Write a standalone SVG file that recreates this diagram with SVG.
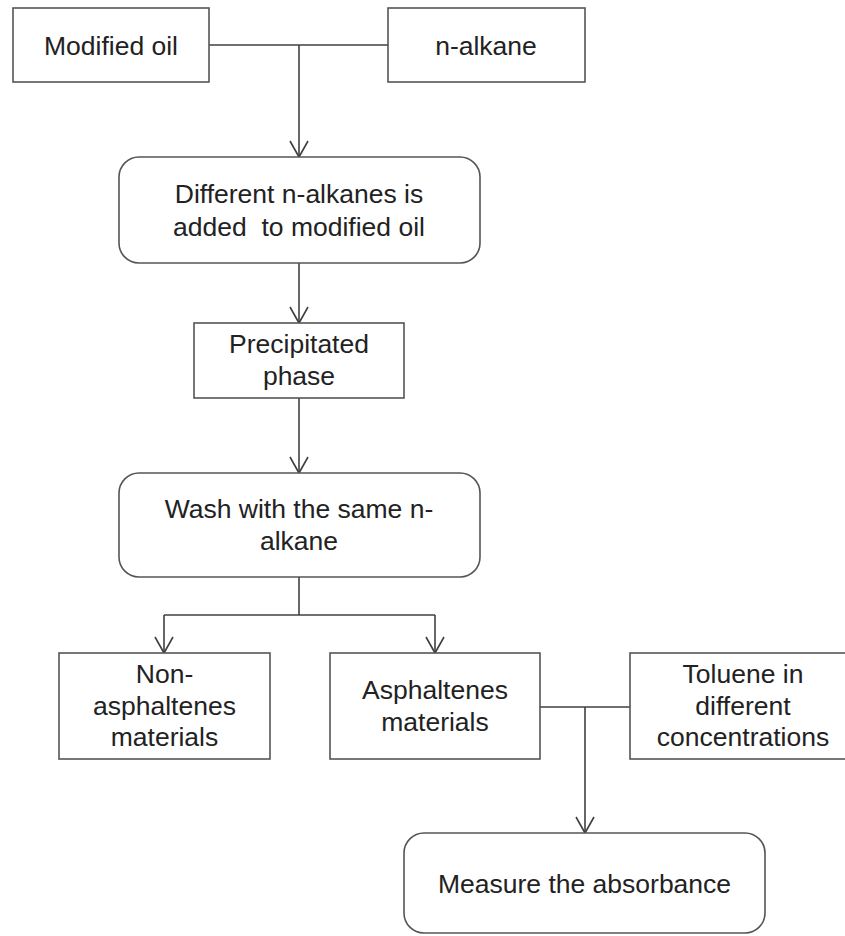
<svg xmlns="http://www.w3.org/2000/svg" width="845" height="936" viewBox="0 0 845 936">
  <style>
    .box { fill: #ffffff; stroke: #555555; stroke-width: 1.6; }
    .wire { fill: none; stroke: #404040; stroke-width: 1.6; }
    .lbl { font-family: "Liberation Sans", Arial, sans-serif; font-size: 26.5px; fill: #222222; text-anchor: middle; white-space: pre; }
  </style>
  <defs>
    <marker id="vhead" markerUnits="userSpaceOnUse" viewBox="-20 -20 40 40" markerWidth="40" markerHeight="40" refX="0" refY="0" orient="auto" overflow="visible">
      <path d="M-16,-9 L0,0 L-16,9" fill="none" stroke="#404040" stroke-width="1.6"/>
    </marker>
  </defs>
  <rect width="845" height="936" fill="#ffffff"/>

  <!-- connectors -->
  <g id="connectors">
    <line class="wire" x1="209" y1="45" x2="388" y2="45"/>
    <line class="wire" x1="299" y1="45" x2="299" y2="157" marker-end="url(#vhead)"/>
    <line class="wire" x1="299" y1="263" x2="299" y2="323" marker-end="url(#vhead)"/>
    <line class="wire" x1="299" y1="398" x2="299" y2="473" marker-end="url(#vhead)"/>
    <line class="wire" x1="299" y1="577" x2="299" y2="615"/>
    <line class="wire" x1="164" y1="615" x2="435" y2="615"/>
    <line class="wire" x1="164" y1="615" x2="164" y2="653" marker-end="url(#vhead)"/>
    <line class="wire" x1="435" y1="615" x2="435" y2="653" marker-end="url(#vhead)"/>
    <line class="wire" x1="540" y1="707" x2="630" y2="707"/>
    <line class="wire" x1="585" y1="707" x2="585" y2="833" marker-end="url(#vhead)"/>
  </g>

  <g id="modified-oil">
    <rect class="box" x="13" y="8" width="196" height="74"/>
    <text class="lbl" x="111" y="54.5">Modified oil</text>
  </g>

  <g id="n-alkane">
    <rect class="box" x="388" y="8" width="197" height="74"/>
    <text class="lbl" x="486" y="54.5">n-alkane</text>
  </g>

  <g id="mixing">
    <rect class="box" x="119" y="157" width="361" height="106" rx="20" ry="20"/>
    <text class="lbl" x="299" y="203">Different n-alkanes is</text>
    <text class="lbl" x="299" y="236">added  to modified oil</text>
  </g>

  <g id="precipitated-phase">
    <rect class="box" x="194" y="323" width="210" height="75"/>
    <text class="lbl" x="299" y="353">Precipitated</text>
    <text class="lbl" x="299" y="385">phase</text>
  </g>

  <g id="wash">
    <rect class="box" x="119" y="473" width="361" height="104" rx="20" ry="20"/>
    <text class="lbl" x="299" y="518">Wash with the same n-</text>
    <text class="lbl" x="299" y="550">alkane</text>
  </g>

  <g id="non-asphaltenes">
    <rect class="box" x="59" y="653" width="211" height="106"/>
    <text class="lbl" x="164.5" y="683">Non-</text>
    <text class="lbl" x="164.5" y="714.5">asphaltenes</text>
    <text class="lbl" x="164.5" y="746">materials</text>
  </g>

  <g id="asphaltenes">
    <rect class="box" x="330" y="653" width="210" height="106"/>
    <text class="lbl" x="435" y="699">Asphaltenes</text>
    <text class="lbl" x="435" y="731">materials</text>
  </g>

  <g id="toluene">
    <rect class="box" x="630" y="653" width="226" height="106"/>
    <text class="lbl" x="743" y="683">Toluene in</text>
    <text class="lbl" x="743" y="714.5">different</text>
    <text class="lbl" x="743" y="746">concentrations</text>
  </g>

  <g id="absorbance">
    <rect class="box" x="404" y="833" width="361" height="100" rx="20" ry="20"/>
    <text class="lbl" x="584.5" y="893">Measure the absorbance</text>
  </g>
</svg>
